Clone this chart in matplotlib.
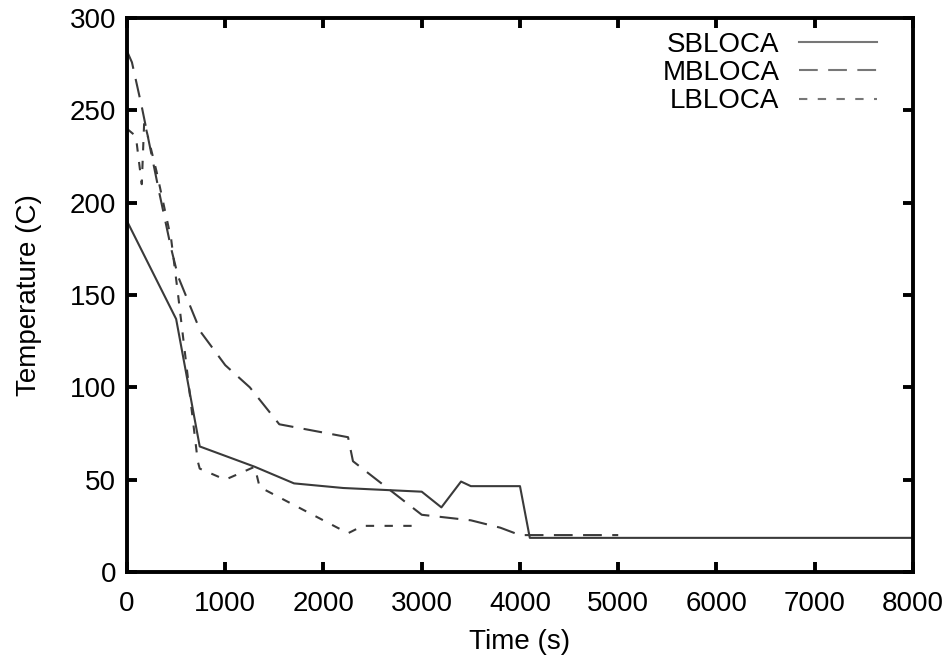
import matplotlib
matplotlib.use("Agg")
import matplotlib.pyplot as plt

plt.rcParams['font.family'] = ['Liberation Sans', 'DejaVu Sans']

# temperature histories for the three break sizes
sb_time = [0, 500, 740, 1300, 1700, 2200, 3000, 3200, 3400, 3500, 4000, 4100, 8000]
sb_temp = [190, 137, 68, 57, 48, 45.5, 43.5, 35, 49, 46.5, 46.5, 18.5, 18.5]

mb_time = [0, 50, 150, 330, 450, 520, 750, 1000, 1250, 1550, 2250, 2300, 3000, 3500, 3800, 4000, 5000]
mb_temp = [282, 276, 252, 205, 175, 160, 130, 112, 100, 80, 73, 60, 31, 28, 24, 20, 20]

lb_time = [0, 90, 150, 175, 300, 450, 520, 720, 740, 1000, 1300, 1350, 2250, 2400, 3000]
lb_temp = [240, 236, 210, 244, 217, 180, 150, 60, 56, 50, 57, 46, 21, 25, 25]

fig = plt.figure(figsize=(9.5, 6.66), dpi=100)
ax = fig.add_axes([0.1337, 0.1411, 0.8273, 0.8319])

ax.plot(sb_time, sb_temp, color='#3a3a3a', lw=1.5, ls='-', label='SBLOCA')
ax.plot(mb_time, mb_temp, color='#3a3a3a', lw=1.5, ls=(0, (9, 5)), label='MBLOCA')
ax.plot(lb_time, lb_temp, color='#3a3a3a', lw=1.5, ls=(0, (4, 5)), label='LBLOCA')

ax.set_xlim(0, 8000)
ax.set_ylim(0, 300)
ax.set_xticks(range(0, 8001, 1000))
ax.set_yticks(range(0, 301, 50))
ax.set_xlabel('Time (s)', fontsize=20, labelpad=8)
ax.set_ylabel('Temperature (C)', fontsize=20, labelpad=20)

for s in ax.spines.values():
    s.set_linewidth(2.8)
ax.tick_params(direction='in', length=7, width=2.8, top=True, right=True,
               labelsize=20)
ax.tick_params(axis='x', pad=14)
ax.tick_params(axis='y', pad=8)

leg = ax.legend(loc='upper right', markerfirst=False, frameon=False, fontsize=20,
                handlelength=2.8, handletextpad=0.7, labelspacing=0.08,
                borderpad=0, borderaxespad=0, bbox_to_anchor=(0.954, 0.975))
for h in leg.get_lines():
    h.set_color('#777777')

fig.savefig('out.png', dpi=100)
